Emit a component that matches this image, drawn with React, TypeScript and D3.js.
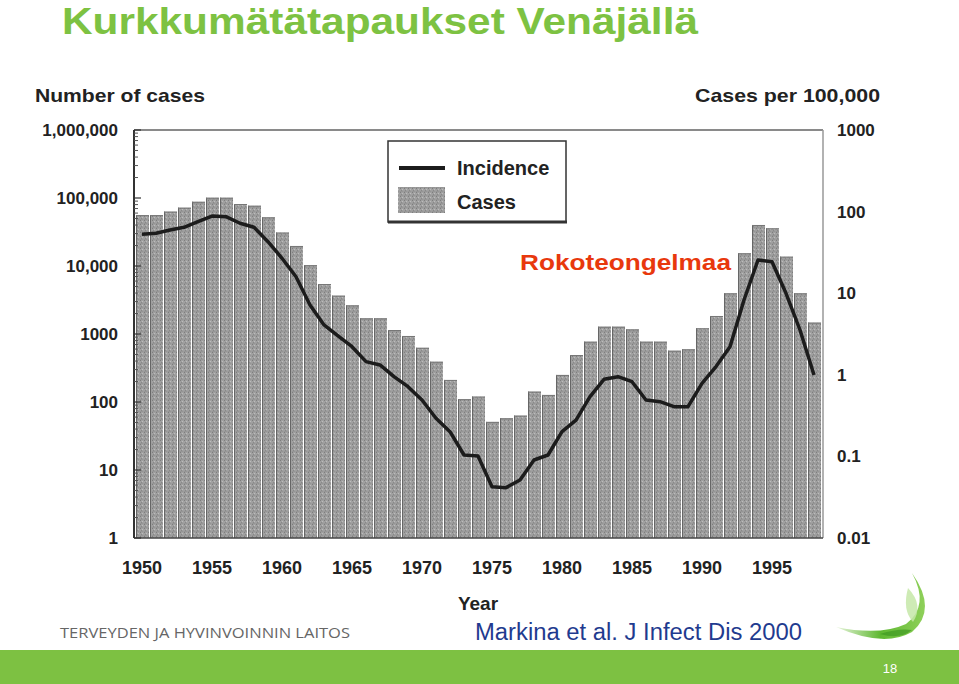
import React from "react";
import * as d3 from "d3";

const years: number[] = d3.range(1950, 1999);

const cases: number[] = [
  56000, 56000, 63000, 72000, 88000, 101000, 101000, 81600, 77000, 52000,
  31000, 19700, 10300, 5430, 3660, 2640, 1700, 1700, 1145, 935,
  627, 391, 211, 110, 120, 51, 57.6, 63, 142, 127,
  250, 491, 771, 1280, 1280, 1170, 771, 771, 568, 596,
  1213, 1840, 3970, 15400, 40100, 35800, 13700, 3970, 1470,
];

const incidence: number[] = [
  52.7, 54.2, 59.5, 64.2, 75.2, 88.3, 86.6, 71.9, 64.2, 42.8,
  26.8, 15.9, 7.17, 4.08, 2.99, 2.21, 1.45, 1.32, 0.948, 0.715,
  0.491, 0.293, 0.201, 0.104, 0.101, 0.0425, 0.0414, 0.0514, 0.0904, 0.104,
  0.201, 0.279, 0.539, 0.881, 0.948, 0.823, 0.491, 0.468, 0.407, 0.407,
  0.787, 1.26, 2.21, 8.26, 25.5, 24.3, 9.97, 3.54, 0.995,
];

const leftTicks: number[] = [1, 10, 100, 1000, 10000, 100000, 1000000];
const leftTickLabels: string[] = ["1", "10", "100", "1000", "10,000", "100,000", "1,000,000"];
const rightTicks: number[] = [0.01, 0.1, 1, 10, 100, 1000];
const rightTickLabels: string[] = ["0.01", "0.1", "1", "10", "100", "1000"];
const xTickYears: number[] = [1950, 1955, 1960, 1965, 1970, 1975, 1980, 1985, 1990, 1995];

const TITLE = "Kurkkumätätapaukset Venäjällä";

export default function App() {
  const left = 135, right = 821, top = 130, bottom = 538;
  const x = d3.scaleBand<number>().domain(years).range([left, right]).padding(0);
  const bw = x.bandwidth();
  const cx = (yr: number) => (x(yr) as number) + bw / 2;
  const yL = d3.scaleLog().domain([1, 1e6]).range([bottom, top]);
  const yR = d3.scaleLog().domain([0.01, 1000]).range([bottom, top]);

  const lineGen = d3
    .line<number>()
    .x((_, i) => cx(years[i]))
    .y((d) => yR(d));

  const minorTicks: number[] = [];
  for (let e = 0; e < 6; e++) {
    for (let m = 2; m <= 9; m++) minorTicks.push(m * Math.pow(10, e));
  }

  const font = "'Liberation Sans', Arial, Helvetica, sans-serif";
  const narrow = "'Liberation Sans Narrow', 'Arial Narrow', 'Liberation Sans', Arial, sans-serif";

  return (
    <div style={{ position: "absolute", left: 0, top: 0, width: 959, height: 684, background: "#fff" }}>
      <svg width={959} height={684} style={{ display: "block" }}>
        <defs>
          <pattern id="stipple" width="4" height="4" patternUnits="userSpaceOnUse">
            <rect width="4" height="4" fill="#a0a0a0" />
            <rect x="0" y="0" width="1" height="1" fill="#7e7e7e" />
            <rect x="2" y="1" width="1" height="1" fill="#bcbcbc" />
            <rect x="1" y="2" width="1" height="1" fill="#888" />
            <rect x="3" y="3" width="1" height="1" fill="#b4b4b4" />
            <rect x="0" y="3" width="4" height="0.6" fill="#8e8e8e" />
          </pattern>
          <linearGradient id="logoGrad" x1="0" y1="0" x2="1" y2="0">
            <stop offset="0" stopColor="#e8f5dc" />
            <stop offset="0.5" stopColor="#5fb832" />
            <stop offset="1" stopColor="#8fd05a" />
          </linearGradient>
        </defs>

        {/* Title */}
        <text x={62} y={34} fontFamily={narrow} fontWeight="bold" fontSize={37} fill="#7dc242"
          textLength={636} lengthAdjust="spacingAndGlyphs">{TITLE}</text>

        {/* Axis titles */}
        <text x={35} y={102} fontFamily={font} fontWeight="bold" fontSize={19} fill="#222"
          textLength={170} lengthAdjust="spacingAndGlyphs">Number of cases</text>
        <text x={695} y={102} fontFamily={font} fontWeight="bold" fontSize={19} fill="#222"
          textLength={185} lengthAdjust="spacingAndGlyphs">Cases per 100,000</text>

        {/* Bars */}
        {years.map((yr, i) => {
          const x0 = x(yr) as number;
          const yTop = yL(cases[i]);
          return (
            <g key={yr}>
              <rect x={x0 + 1} y={yTop} width={bw - 1} height={bottom - yTop} fill="url(#stipple)" />
              <line x1={x0 + 1.5} x2={x0 + 1.5} y1={yTop} y2={bottom} stroke="#666" strokeWidth={1} />
              <line x1={x0 + 1} x2={x0 + bw} y1={yTop + 0.5} y2={yTop + 0.5} stroke="#777" strokeWidth={1} />
            </g>
          );
        })}

        {/* Frame */}
        <line x1={134} x2={823} y1={top} y2={top} stroke="#8a8a8a" strokeWidth={2} />
        <line x1={823} x2={823} y1={top} y2={bottom} stroke="#999" strokeWidth={1.5} />
        <line x1={134} x2={823} y1={bottom} y2={bottom} stroke="#444" strokeWidth={1.5} />
        <line x1={134} x2={134} y1={top} y2={bottom} stroke="#333" strokeWidth={2} />
        {minorTicks.map((t) => (
          <line key={t} x1={134} x2={138} y1={yL(t)} y2={yL(t)} stroke="#555" strokeWidth={1} />
        ))}
        {leftTicks.map((t) => (
          <line key={"M" + t} x1={134} x2={141} y1={yL(t)} y2={yL(t)} stroke="#333" strokeWidth={1.2} />
        ))}

        {/* Incidence line */}
        <path d={lineGen(incidence) || ""} fill="none" stroke="#1c1c1c" strokeWidth={3.5} strokeLinejoin="round" />

        {/* Left tick labels */}
        {leftTicks.map((t, i) => (
          <text key={t} x={118} y={yL(t) + 6} textAnchor="end" fontFamily={font} fontWeight="bold"
            fontSize={17} fill="#222">{leftTickLabels[i]}</text>
        ))}
        {/* Right tick labels */}
        {rightTicks.map((t, i) => (
          <text key={t} x={837} y={yR(t) + 6} textAnchor="start" fontFamily={font} fontWeight="bold"
            fontSize={17} fill="#222">{rightTickLabels[i]}</text>
        ))}
        {/* X tick labels */}
        {xTickYears.map((yr) => (
          <text key={yr} x={cx(yr)} y={574} textAnchor="middle" fontFamily={font} fontWeight="bold"
            fontSize={18} fill="#222">{yr}</text>
        ))}
        <text x={478} y={610} textAnchor="middle" fontFamily={font} fontWeight="bold" fontSize={19} fill="#222">Year</text>

        {/* Legend */}
        <rect x={388} y={141} width={178} height={81} fill="#fff" stroke="#333" strokeWidth={1.5} />
        <line x1={388} x2={567} y1={222} y2={222} stroke="#333" strokeWidth={3} />
        <line x1={399} x2={445} y1={168} y2={168} stroke="#1c1c1c" strokeWidth={4} />
        <rect x={398} y={187} width={47} height={26} fill="url(#stipple)" />
        <text x={457} y={175} fontFamily={font} fontWeight="bold" fontSize={20} fill="#222">Incidence</text>
        <text x={457} y={209} fontFamily={font} fontWeight="bold" fontSize={20} fill="#222">Cases</text>

        {/* Annotation */}
        <text x={520} y={270} fontFamily={font} fontWeight="bold" fontSize={22} fill="#e8380d"
          textLength={211} lengthAdjust="spacingAndGlyphs">Rokoteongelmaa</text>

        {/* Footer */}
        <text x={60} y={638} fontFamily={"'Open Sans', 'DejaVu Sans', sans-serif"} fontSize={14} fill="#666"
          textLength={290} lengthAdjust="spacingAndGlyphs">TERVEYDEN JA HYVINVOINNIN LAITOS</text>
        <text x={475} y={640} fontFamily={narrow} fontSize={23} fill="#1f3b8f"
          textLength={327} lengthAdjust="spacingAndGlyphs">Markina et al. J Infect Dis 2000</text>

        {/* Logo */}
        <path d="M 836 627 Q 884 648 912 632 Q 938 610 912 573 Q 930 606 906 624 Q 880 636 836 627 Z"
          fill="url(#logoGrad)" />
        <path d="M 908 588 Q 924 605 913 622 Q 902 610 908 588 Z" fill="#c6e8a8" opacity={0.85} />
        <path d="M 880 634 Q 900 640 912 630 Q 898 628 880 634 Z" fill="#3f9a22" opacity={0.7} />

        <rect x={0} y={650} width={959} height={34} fill="#7dc142" />
        <text x={890} y={673} textAnchor="middle" fontFamily={font} fontSize={13} fill="#fff">18</text>
      </svg>
    </div>
  );
}
